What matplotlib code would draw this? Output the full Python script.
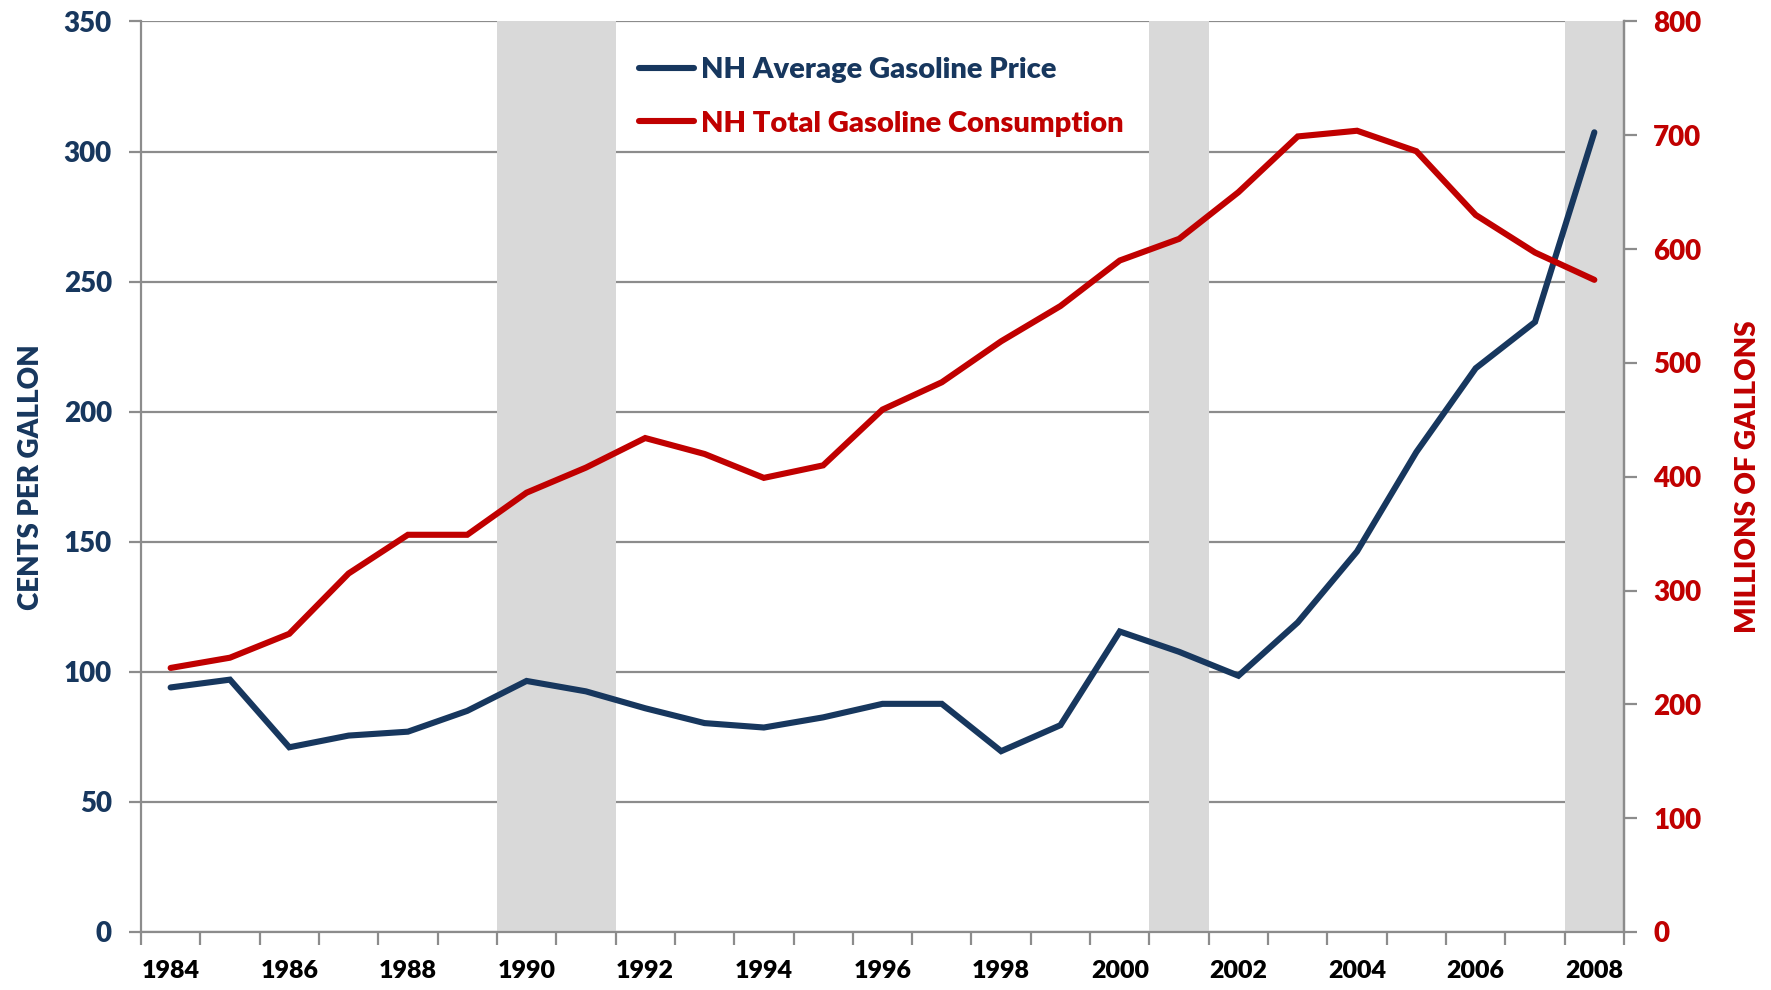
import matplotlib
matplotlib.use("Agg")
import matplotlib.pyplot as plt
import numpy as np

years = list(range(1984, 2009))
price = [94, 97, 71, 75.5, 77, 85, 96.5, 92.5, 86, 80.3, 78.6, 82.5, 87.7, 87.7,
         69.5, 79.5, 115.5, 107.7, 98.5, 119, 146.3, 184.5, 216.7, 234.5, 307.4]
consumption = [232, 241, 262, 315, 349, 349, 386, 408, 434, 420, 399, 410, 459, 483,
               519, 550, 590, 609, 650, 699, 704, 686, 630, 597, 573]
recession_years = [1990, 1991, 2001, 2008]
left_ticks = [0, 50, 100, 150, 200, 250, 300, 350]
right_ticks = [0, 100, 200, 300, 400, 500, 600, 700, 800]

NAVY = "#17375E"
RED = "#C00000"
GRID = "#8C8C8C"
SHADE = "#D9D9D9"
FONT = "Lato"
W = 'heavy'

plt.rcParams['font.family'] = [FONT, 'DejaVu Sans']
plt.rcParams['font.weight'] = W

fig = plt.figure(figsize=(17.71, 9.90), dpi=100)
ax = fig.add_axes([0.0796, 0.0586, 0.8374, 0.9197])
ax2 = ax.twinx()

x = np.arange(len(years))
rec_x = [years.index(y) for y in recession_years]

ax.set_zorder(1)
ax2.set_zorder(2)
ax2.patch.set_visible(False)

for v in left_ticks:
    ax.axhline(v, color=GRID, lw=1.6, zorder=0)
ax.bar(rec_x, [left_ticks[-1]] * len(rec_x), width=1.0, color=SHADE, zorder=1, linewidth=0)

l1, = ax.plot(x, price, color=NAVY, lw=4.4, solid_capstyle='round', solid_joinstyle='miter', zorder=3,
              label="NH Average Gasoline Price")
l2, = ax2.plot(x, consumption, color=RED, lw=4.4, solid_capstyle='round', solid_joinstyle='miter', zorder=3,
               label="NH Total Gasoline Consumption")

ax.set_xlim(-0.5, len(years) - 0.5)
ax.set_ylim(0, 350)
ax2.set_ylim(0, 800)

ax.set_yticks(left_ticks)
ax.set_yticklabels([str(v) for v in left_ticks])
ax2.set_yticks(right_ticks)
ax2.set_yticklabels([str(v) for v in right_ticks])

ax.set_xticks(np.arange(-0.5, len(years)), minor=False)
ax.set_xticklabels([])
lab_idx = [i for i, y in enumerate(years) if y % 2 == 0]
ax.set_xticks(lab_idx, minor=True)
ax.set_xticklabels([str(years[i]) for i in lab_idx], minor=True)
ax.tick_params(axis='x', which='major', length=9, width=1.6, color=GRID, direction='out')
ax.tick_params(axis='x', which='minor', length=0, pad=20, labelsize=18, labelcolor='black')
ax.tick_params(axis='y', length=9, width=1.6, color=GRID, labelsize=20, labelcolor=NAVY, pad=12)
ax2.tick_params(axis='y', length=9, width=1.6, color=GRID, labelsize=20, labelcolor=RED, pad=12)

for a in (ax, ax2):
    for s in a.spines.values():
        s.set_color(GRID)
        s.set_linewidth(1.6)
    a.spines['top'].set_visible(False)
ax2.spines['left'].set_visible(False)
ax2.spines['bottom'].set_visible(False)

for lab in ax.get_yticklabels() + ax2.get_yticklabels() + ax.get_xticklabels(minor=True):
    lab.set_fontweight(W)

ax.set_ylabel("CENTS PER GALLON", color=NAVY, fontsize=20, fontweight=W, labelpad=14)
ax2.set_ylabel("MILLIONS OF GALLONS", color=RED, fontsize=20, fontweight=W, labelpad=24)

leg = ax2.legend(handles=[l1, l2], loc='upper left', bbox_to_anchor=(0.318, 0.99), frameon=False,
                 handlelength=1.9, handletextpad=0.22, labelspacing=0.95,
                 prop={'family': FONT, 'weight': W, 'size': 21})
for t, c in zip(leg.get_texts(), [NAVY, RED]):
    t.set_color(c)

fig.savefig("out.png", dpi=100)
